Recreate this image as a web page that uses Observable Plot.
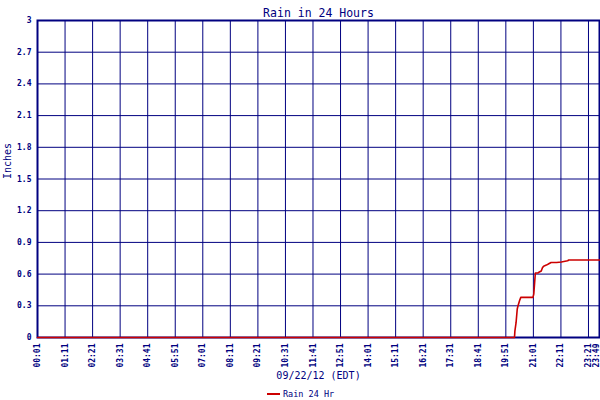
<!DOCTYPE html>
<html><head><meta charset="utf-8">
<script src="https://cdn.jsdelivr.net/npm/d3@7"></script>
<script src="https://cdn.jsdelivr.net/npm/@observablehq/plot@0.6"></script>
<style>
body{margin:0;background:#fff}
#wrap{position:relative;width:600px;height:400px}
#legend{position:absolute;left:267px;top:389px;font:8.5px "DejaVu Sans Mono",monospace;color:#000080;display:flex;align-items:center;white-space:nowrap}
#legend .sw{display:inline-block;width:13px;height:2px;background:#cc0000;margin-right:3px}
</style></head><body><div id="wrap"></div>
<script>
const title = "Rain in 24 Hours";
const xLabel = "09/22/12 (EDT)";
const yLabel = "Inches";
const seriesName = "Rain 24 Hr";
const day = "2012-09-22";
const times = ["00:01","20:13","20:14","20:17","20:20","20:22","20:26","20:29","21:00","21:02","21:06","21:12","21:16","21:21","21:24","21:27","21:34","21:39","21:46","22:00","22:12","22:28","22:31","23:49"];
const rain  = [0,0,0.06,0.14,0.27,0.30,0.35,0.38,0.38,0.41,0.61,0.61,0.62,0.63,0.66,0.675,0.685,0.695,0.71,0.71,0.715,0.726,0.733,0.733];
const xTickLabels = ["00:01","01:11","02:21","03:31","04:41","05:51","07:01","08:11","09:21","10:31","11:41","12:51","14:01","15:11","16:21","17:31","18:41","19:51","21:01","22:11","23:21","23:49"];
const yTicks = [0,0.3,0.6,0.9,1.2,1.5,1.8,2.1,2.4,2.7,3];

const parse = d3.utcParse("%Y-%m-%d %H:%M");
const data = times.map((t,i)=>({date: parse(day+" "+t), value: rain[i]}));
const xTicks = xTickLabels.map(t=>parse(day+" "+t));
const navy = "#000080";
const font = "DejaVu Sans Mono";
const axisOpts = {tickFormat:d3.utcFormat("%H:%M"), tickRotate:-90, tickSize:0, tickPadding:6, label:null, fill:navy, fontWeight:"bold", fontSize:8};

const chart = Plot.plot({
  width:600, height:400, marginTop:20, marginLeft:37, marginRight:1, marginBottom:63,
  style:{background:"#fff", color:navy, fontFamily:font, fontSize:"8px"},
  x:{type:"utc", domain:[xTicks[0], xTicks[xTicks.length-1]]},
  y:{domain:[0,3]},
  marks:[
    Plot.gridX(xTicks,{stroke:navy,strokeOpacity:1,strokeWidth:1}),
    Plot.gridY(yTicks,{stroke:navy,strokeOpacity:1,strokeWidth:1}),
    Plot.axisX(xTicks.slice(0,-1),axisOpts),
    Plot.axisX(xTicks.slice(-1),{...axisOpts, dx:-3}),
    Plot.axisY(yTicks,{tickFormat:d=>String(d), tickSize:0, tickPadding:6, label:null, fill:navy, fontWeight:"bold", fontSize:8}),
    Plot.frame({stroke:navy,strokeWidth:2}),
    Plot.line(data,{x:"date",y:"value",stroke:"#cc0000",strokeWidth:1.6}),
    Plot.text([title],{frameAnchor:"top",dy:-12,fontSize:11.5,fill:navy,fontFamily:font}),
    Plot.text([xLabel],{frameAnchor:"bottom",dy:41,fontSize:10,fill:navy,fontFamily:font}),
    Plot.text([yLabel],{frameAnchor:"left",dx:-30,rotate:-90,fontSize:10,fill:navy,fontFamily:font})
  ]
});
const wrap = document.getElementById("wrap");
wrap.appendChild(chart);
const lg = document.createElement("div");
lg.id = "legend";
lg.innerHTML = '<span class="sw"></span><span></span>';
lg.lastChild.textContent = seriesName;
wrap.appendChild(lg);
</script>
</body></html>
